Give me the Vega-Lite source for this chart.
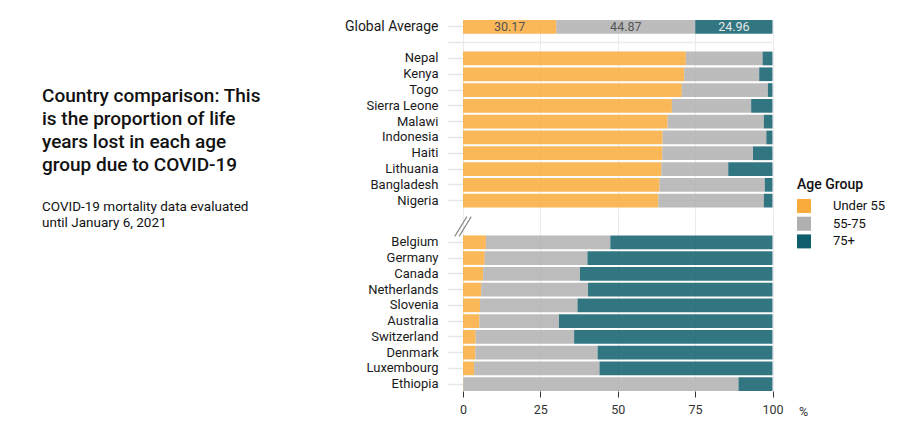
{
  "$schema": "https://vega.github.io/schema/vega-lite/v6.json",
  "padding": {"left": 42, "top": 19, "right": 5, "bottom": 5},
  "background": "white",
  "config": {
    "font": "Roboto",
    "view": {"stroke": null},
    "axis": {"labelFont": "Roboto", "titleFont": "Roboto"},
    "legend": {"labelFont": "Roboto", "titleFont": "Roboto"},
    "title": {"font": "Roboto", "subtitleFont": "Roboto"}
  },
  "bounds": "flush",
  "spacing": 121,
  "hconcat": [
    {
      "width": 300,
      "height": 60,
      "data": {"values": [{"t": 1}]},
      "mark": {"type": "point", "opacity": 0},
      "title": {
        "text": ["Country comparison: This", "is the proportion of life", "years lost in each age", "group due to COVID-19"],
        "subtitle": ["COVID-19 mortality data evaluated", "until January 6, 2021"],
        "orient": "bottom",
        "anchor": "start",
        "frame": "group",
        "offset": 7,
        "fontSize": 19,
        "fontWeight": 500,
        "lineHeight": 23,
        "color": "#111111",
        "subtitleFontSize": 13.5,
        "subtitleLineHeight": 16,
        "subtitleColor": "#111111",
        "subtitlePadding": 25,
        "baseline": "top"
      }
    },
    {
      "data": {
        "values": [
          {"country": "Global Average", "section": "global", "Under 55": 30.17, "55-75": 44.87, "75+": 24.96},
          {"country": "Nepal", "section": "top", "Under 55": 72.0, "55-75": 24.8, "75+": 3.2},
          {"country": "Kenya", "section": "top", "Under 55": 71.5, "55-75": 24.2, "75+": 4.3},
          {"country": "Togo", "section": "top", "Under 55": 70.7, "55-75": 27.8, "75+": 1.5},
          {"country": "Sierra Leone", "section": "top", "Under 55": 67.5, "55-75": 25.6, "75+": 6.9},
          {"country": "Malawi", "section": "top", "Under 55": 66.1, "55-75": 31.1, "75+": 2.8},
          {"country": "Indonesia", "section": "top", "Under 55": 64.5, "55-75": 33.5, "75+": 2.0},
          {"country": "Haiti", "section": "top", "Under 55": 64.4, "55-75": 29.3, "75+": 6.3},
          {"country": "Lithuania", "section": "top", "Under 55": 64.1, "55-75": 21.6, "75+": 14.3},
          {"country": "Bangladesh", "section": "top", "Under 55": 63.5, "55-75": 34.0, "75+": 2.5},
          {"country": "Nigeria", "section": "top", "Under 55": 63.1, "55-75": 34.1, "75+": 2.8},
          {"country": "brk", "section": "marker", "Under 55": 0, "55-75": 0, "75+": 0},
          {"country": "Belgium", "section": "bottom", "Under 55": 7.4, "55-75": 40.2, "75+": 52.4},
          {"country": "Germany", "section": "bottom", "Under 55": 7.0, "55-75": 33.2, "75+": 59.8},
          {"country": "Canada", "section": "bottom", "Under 55": 6.5, "55-75": 31.3, "75+": 62.2},
          {"country": "Netherlands", "section": "bottom", "Under 55": 5.9, "55-75": 34.5, "75+": 59.6},
          {"country": "Slovenia", "section": "bottom", "Under 55": 5.5, "55-75": 31.5, "75+": 63.0},
          {"country": "Australia", "section": "bottom", "Under 55": 5.3, "55-75": 25.7, "75+": 69.0},
          {"country": "Switzerland", "section": "bottom", "Under 55": 4.1, "55-75": 31.8, "75+": 64.1},
          {"country": "Denmark", "section": "bottom", "Under 55": 4.0, "55-75": 39.5, "75+": 56.5},
          {"country": "Luxembourg", "section": "bottom", "Under 55": 3.6, "55-75": 40.5, "75+": 55.9},
          {"country": "Ethiopia", "section": "bottom", "Under 55": 0.1, "55-75": 88.9, "75+": 11.0}
        ]
      },
      "transform": [
        {"fold": ["Under 55", "55-75", "75+"], "as": ["group", "value"]},
        {"calculate": "indexof(['Under 55', '55-75', '75+'], datum.group)", "as": "ord"},
        {"stack": "value", "groupby": ["country"], "sort": [{"field": "ord", "order": "ascending"}], "as": ["v0", "v1"]},
        {"calculate": "(datum.v0 + datum.v1) / 2", "as": "mid"}
      ],
      "bounds": "flush",
      "spacing": 0,
      "vconcat": [
        {
          "width": 309.5,
          "height": 187.5,
          "transform": [{"filter": "datum.section === 'global' || datum.section === 'top'"}],
          "encoding": {
            "y": {
              "field": "country",
              "type": "nominal",
              "scale": {
                "domain": ["Global Average", "sp", "Nepal", "Kenya", "Togo", "Sierra Leone", "Malawi", "Indonesia", "Haiti", "Lithuania", "Bangladesh", "Nigeria"],
                "paddingInner": 0.13,
                "paddingOuter": 0
              },
              "axis": {
                "title": null,
                "domain": false,
                "tickSize": 15,
                "tickColor": "#e6e6e6",
                "tickWidth": 1.5,
                "labelPadding": 10,
                "labelFontSize": {"condition": {"test": "datum.value === 'Global Average'", "value": 14}, "value": 13},
                "labelColor": "#1a1a1a",
                "labelExpr": "datum.value === 'sp' ? '' : datum.label",
                "grid": true,
                "gridColor": "#ebebeb",
                "gridWidth": 1.5
              }
            }
          },
          "layer": [
            {
              "mark": {"type": "bar", "opacity": 0.85},
              "encoding": {
                "x": {
                  "field": "v0",
                  "type": "quantitative",
                  "scale": {"domain": [0, 100], "nice": false},
                  "axis": {
                    "values": [0, 12.5, 25, 37.5, 50, 62.5, 75, 87.5, 100],
                    "labels": false,
                    "ticks": false,
                    "domain": false,
                    "title": null,
                    "grid": true,
                    "gridColor": "#ebebeb",
                    "gridWidth": 1
                  }
                },
                "x2": {"field": "v1"},
                "color": {
                  "field": "group",
                  "type": "nominal",
                  "scale": {"domain": ["Under 55", "55-75", "75+"], "range": ["#F9AB3B", "#B0B0B0", "#0E5E6C"]},
                  "legend": {
                    "title": "Age Group",
                    "orient": "none",
                    "legendX": 755,
                    "legendY": 158,
                    "titleFontSize": 14,
                    "titleFontWeight": 500,
                    "titleColor": "#111111",
                    "titlePadding": 7,
                    "labelFontSize": 13,
                    "labelColor": "#111111",
                    "labelOffset": 22,
                    "symbolType": "square",
                    "symbolSize": 196,
                    "symbolStrokeWidth": 0,
                    "symbolOpacity": 1,
                    "rowPadding": 3.7
                  }
                }
              }
            },
            {
              "transform": [{"filter": "datum.country === 'Global Average'"}],
              "mark": {"type": "text", "fontSize": 12.5, "baseline": "middle", "align": "center"},
              "encoding": {
                "x": {"field": "mid", "type": "quantitative"},
                "text": {"field": "value", "type": "quantitative", "format": ".2f"},
                "color": {"condition": {"test": "datum.group === '75+'", "value": "#e8e8e8"}, "value": "#555555"}
              }
            }
          ]
        },
        {
          "width": 309.5,
          "height": 183,
          "transform": [{"filter": "datum.section === 'bottom' || datum.section === 'marker'"}],
          "encoding": {
            "y": {
              "field": "country",
              "type": "nominal",
              "scale": {
                "domain": ["brk", "Belgium", "Germany", "Canada", "Netherlands", "Slovenia", "Australia", "Switzerland", "Denmark", "Luxembourg", "Ethiopia"],
                "paddingInner": 0.13,
                "paddingOuter": 0.37,
                "align": 1
              },
              "axis": {
                "title": null,
                "domain": false,
                "tickSize": 15,
                "tickColor": "#e6e6e6",
                "tickWidth": 1.5,
                "tickOpacity": {"condition": {"test": "datum.value === 'brk'", "value": 0}, "value": 1},
                "labelPadding": 10,
                "labelFontSize": 13,
                "labelColor": "#1a1a1a",
                "labelExpr": "datum.value === 'brk' ? '' : datum.label",
                "grid": false
              }
            }
          },
          "layer": [
            {
              "transform": [{"filter": "datum.section === 'bottom'"}],
              "mark": {"type": "bar", "opacity": 0.85},
              "encoding": {
                "x": {
                  "field": "v0",
                  "type": "quantitative",
                  "scale": {"domain": [0, 100], "nice": false},
                  "axis": {
                    "values": [0, 12.5, 25, 37.5, 50, 62.5, 75, 87.5, 100],
                    "labelExpr": "datum.value % 25 === 0 ? datum.label : ''",
                    "labelFlush": false,
                    "labelOverlap": false,
                    "labelFontSize": 12.5,
                    "labelColor": "#333333",
                    "labelPadding": 6,
                    "tickSize": 6,
                    "tickColor": "#333333",
                    "tickWidth": 1,
                    "tickOpacity": {"condition": {"test": "datum.value % 25 !== 0", "value": 0}, "value": 1},
                    "domain": false,
                    "grid": true,
                    "gridColor": "#ebebeb",
                    "gridWidth": 1,
                    "title": "%",
                    "titleFontSize": 12.5,
                    "titleFontWeight": "normal",
                    "titleColor": "#333333",
                    "titleX": 340,
                    "titleY": 20.5,
                    "titleAlign": "center",
                    "titleBaseline": "middle"
                  }
                },
                "x2": {"field": "v1"},
                "color": {
                  "field": "group",
                  "type": "nominal",
                  "scale": {"domain": ["Under 55", "55-75", "75+"], "range": ["#F9AB3B", "#B0B0B0", "#0E5E6C"]},
                  "legend": {
                    "title": "Age Group",
                    "orient": "none",
                    "legendX": 755,
                    "legendY": 158,
                    "titleFontSize": 14,
                    "titleFontWeight": 500,
                    "titleColor": "#111111",
                    "titlePadding": 7,
                    "labelFontSize": 13,
                    "labelColor": "#111111",
                    "labelOffset": 22,
                    "symbolType": "square",
                    "symbolSize": 196,
                    "symbolStrokeWidth": 0,
                    "symbolOpacity": 1,
                    "rowPadding": 3.7
                  }
                }
              }
            },
            {
              "transform": [{"filter": "datum.section === 'marker' && datum.group === 'Under 55'"}],
              "mark": {
                "type": "point",
                "shape": "M-0.75,0.9L0.35,-0.9M-0.35,0.9L0.75,-0.9",
                "size": 484,
                "filled": false,
                "stroke": "#8c8c8c",
                "strokeWidth": 1.2,
                "opacity": 1
              },
              "encoding": {
                "x": {"datum": 0, "type": "quantitative"}
              }
            }
          ]
        }
      ]
    }
  ]
}
